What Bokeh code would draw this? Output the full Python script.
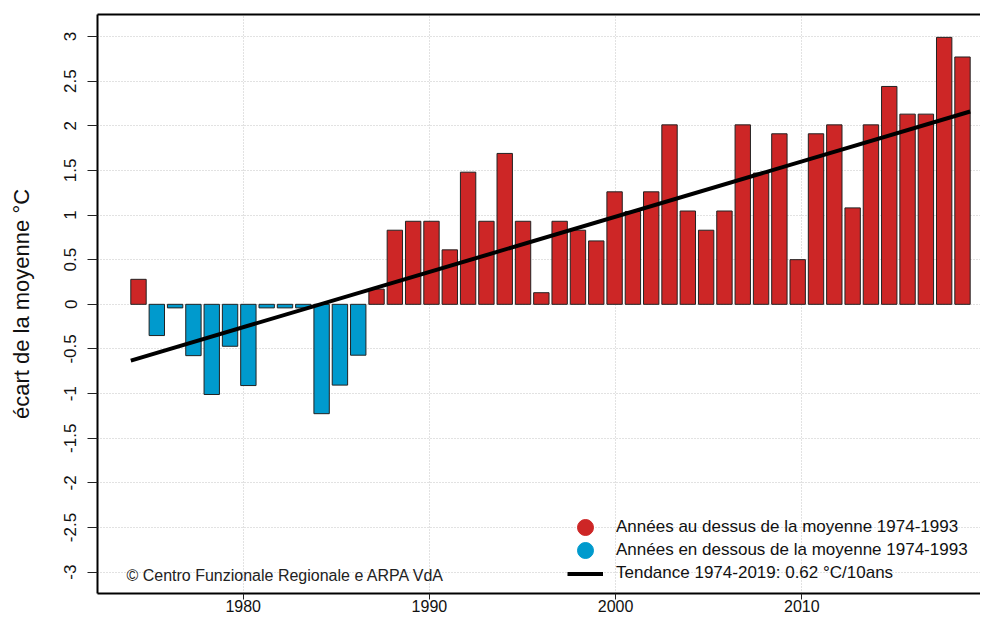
import numpy as np
from bokeh.plotting import figure
from bokeh.models import (ColumnDataSource, Range1d, FixedTicker, LinearAxis,
                          Legend, LegendItem, Label)
from bokeh.embed import file_html
from bokeh.resources import INLINE

# ---------------- data ----------------
years = list(range(1974, 2020))
anomaly = [0.28, -0.35, -0.04, -0.575, -1.01, -0.47, -0.91, -0.04, -0.04, -0.04,
           -1.225, -0.905, -0.57, 0.17, 0.83, 0.93, 0.93, 0.61, 1.48, 0.93,
           1.69, 0.93, 0.13, 0.93, 0.83, 0.71, 1.26, 1.04, 1.26, 2.01,
           1.045, 0.83, 1.045, 2.01, 1.47, 1.91, 0.50, 1.91, 2.01, 1.08,
           2.01, 2.44, 2.13, 2.13, 2.99, 2.77]
trend_start = -0.63          # trend value for 1974
trend_slope = 0.062          # degC per year (0.62 degC / 10 years)
x_ticks = [1980, 1990, 2000, 2010]
y_ticks = [-3, -2.5, -2, -1.5, -1, -0.5, 0, 0.5, 1, 1.5, 2, 2.5, 3]
y_tick_labels = ["-3", "-2.5", "-2", "-1.5", "-1", "-0.5", "0", "0.5", "1",
                 "1.5", "2", "2.5", "3"]
label_above = "Années au dessus de la moyenne 1974-1993"
label_below = "Années en dessous de la moyenne 1974-1993"
label_trend = "Tendance 1974-2019: 0.62 °C/10ans"
credit = "© Centro Funzionale Regionale e ARPA VdA"
y_title = "écart de la moyenne °C"

RED = "#CD2626"
BLUE = "#009ACD"
FONT = "Liberation Sans"

# bar placement (barplot geometry, slightly compressed relative to the year axis)
yrs = np.array(years, dtype=float)
bar_step = 0.9834
bar_x = 1974.377 + (yrs - yrs[0]) * bar_step
bar_w = 0.826
vals = np.array(anomaly)
colors = [RED if v > 0 else BLUE for v in vals]
src = ColumnDataSource(dict(x=bar_x, top=vals, color=colors))

trend_x = [bar_x[0] - bar_w / 2, bar_x[-1] + bar_w / 2]
trend_y = [trend_start, trend_start + trend_slope * (years[-1] - years[0])]

# ---------------- figure ----------------
p = figure(width=980, height=618, output_backend="svg", toolbar_location=None,
           x_range=Range1d(1972.175, 2019.597), y_range=Range1d(-3.239, 3.246),
           min_border_left=97, min_border_right=0, min_border_top=14,
           min_border_bottom=25)
p.outline_line_color = None
p.background_fill_color = "white"

# grids
p.xgrid.ticker = FixedTicker(ticks=x_ticks)
p.ygrid.ticker = FixedTicker(ticks=y_ticks)
for g in (p.xgrid[0], p.ygrid[0]):
    g.grid_line_color = "#c4c4c4"
    g.grid_line_dash = "1 2"
    g.grid_line_width = 1

# bars
p.vbar(x="x", top="top", bottom=0, width=bar_w, source=src,
       fill_color="color", line_color="#222222", line_width=1)

# trend line
trend_r = p.line(trend_x, trend_y, line_color="black", line_width=4)

# axes
xa = p.xaxis[0]
xa.ticker = FixedTicker(ticks=x_ticks)
xa.major_label_overrides = {t: str(t) for t in x_ticks}
ya = p.yaxis[0]
ya.ticker = FixedTicker(ticks=y_ticks)
ya.major_label_overrides = {float(t): s for t, s in zip(y_ticks, y_tick_labels)}
ya.major_label_orientation = "vertical"
ya.axis_label = y_title
ya.axis_label_text_font = FONT
ya.axis_label_text_font_size = "22px"
ya.axis_label_text_font_style = "normal"
ya.axis_label_text_color = "#111111"
ya.axis_label_standoff = 28
for ax in (xa, ya):
    ax.axis_line_width = 2
    ax.axis_line_color = "black"
    ax.major_tick_line_color = "#222222"
    ax.major_tick_line_width = 1
    ax.major_tick_in = 0
    ax.minor_tick_line_color = None
    ax.major_label_text_font = FONT
    ax.major_label_text_font_size = "17px"
    ax.major_label_text_color = "#111111"
xa.major_label_text_font_size = "16px"
xa.major_tick_out = 6
xa.major_label_standoff = 0
ya.major_tick_out = 10
ya.major_label_standoff = 11

top_axis = LinearAxis(ticker=FixedTicker(ticks=[]), axis_line_width=2,
                      axis_line_color="black", major_tick_out=0, major_tick_in=0,
                      minor_tick_line_color=None, major_label_standoff=0,
                      major_label_text_font_size="0px")
p.add_layout(top_axis, "above")

# legend swatches (renderers with no visible point)
red_r = p.scatter(x=[np.nan], y=[np.nan], marker="circle", size=16,
                  fill_color=RED, line_color=RED)
blue_r = p.scatter(x=[np.nan], y=[np.nan], marker="circle", size=16,
                   fill_color=BLUE, line_color=BLUE)

common = dict(padding=0, margin=0, border_line_color=None, background_fill_alpha=0,
              label_text_font=FONT, label_text_font_size="17px",
              label_text_color="#111111")
leg_r = Legend(items=[LegendItem(label=label_above, renderers=[red_r])],
               location=(468, 46), glyph_width=40, glyph_height=40, label_height=40,
               label_standoff=11, **common)
leg_bl = Legend(items=[LegendItem(label=label_below, renderers=[blue_r])],
                location=(468, 23), glyph_width=40, glyph_height=40, label_height=40,
                label_standoff=11, **common)
leg_t = Legend(items=[LegendItem(label=label_trend, renderers=[trend_r])],
               location=(470, 8.5), glyph_width=36, glyph_height=23, label_height=23,
               label_standoff=13, **common)
for lg in (leg_r, leg_bl, leg_t):
    p.add_layout(lg, "center")

# credit
p.add_layout(Label(x=1973.73, y=-3.037, text=credit, text_font=FONT,
                   text_font_size="16px", text_baseline="middle",
                   text_color="#222222"))

open("out.html", "w").write(file_html(p, INLINE))
